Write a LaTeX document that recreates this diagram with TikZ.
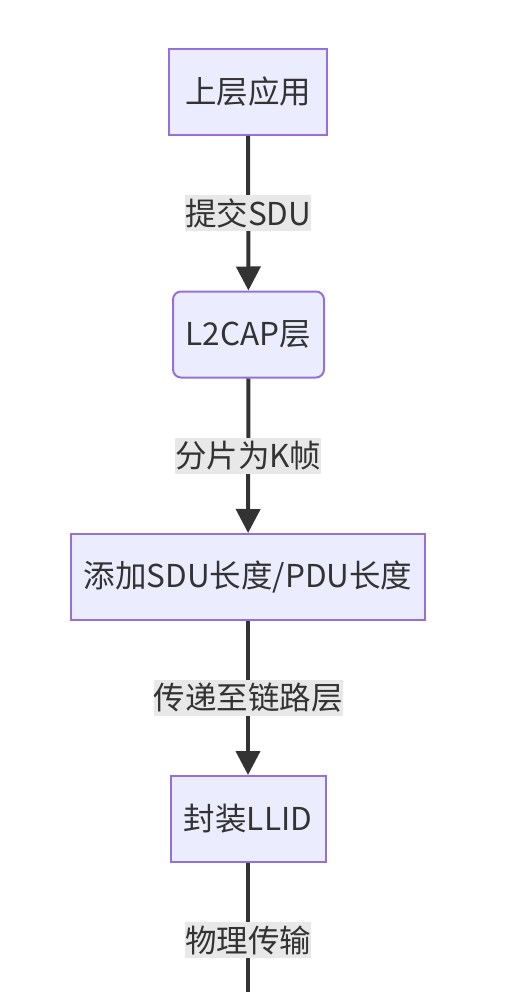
\documentclass[tikz,border=0pt]{standalone}
\usepackage{fontspec}
\setmainfont{Noto Sans CJK SC}
\usetikzlibrary{arrows.meta}
\definecolor{nodefill}{HTML}{ECECFF}
\definecolor{nodeline}{HTML}{9370DB}
\definecolor{edgeline}{HTML}{333333}
\definecolor{labelbg}{HTML}{E8E8E8}
\definecolor{txt}{HTML}{333333}
\begin{document}
\begin{tikzpicture}[x=1pt,y=-1pt,
  box/.style={draw=nodeline, fill=nodefill, line width=2pt, minimum height=86pt, inner sep=0pt, text=txt, font=\fontsize{31.5}{36}\selectfont},
  rbox/.style={box, rounded corners=8pt},
  elabel/.style={fill=labelbg, inner xsep=0pt, inner ysep=0pt, minimum height=36pt, text=txt, font=\fontsize{31.5}{36}\selectfont},
  edge/.style={draw=edgeline, line width=4pt, -{Triangle[length=24pt,width=24pt]}},
  edgeplain/.style={draw=edgeline, line width=4pt}]
\useasboundingbox (0,0) rectangle (527,992);
\node[box, minimum width=158pt] (b1) at (248,92) {上层应用};
\node[rbox, minimum width=151pt] (b2) at (248.5,334.5) {L2CAP层};
\node[box, minimum width=354pt] (b3) at (248,577) {添加SDU长度/PDU长度};
\node[box, minimum width=155pt] (b4) at (248,819) {封装LLID};
\coordinate (end) at (248,992);
\draw[edge] (b1) -- node[elabel] (l1) {提交SDU} (b2);
\draw[edge] (b2) -- node[elabel] (l2) {分片为K帧} (b3);
\draw[edge] (b3) -- node[elabel] (l3) {传递至链路层} (b4);
\draw[edgeplain] (b4) -- node[elabel, pos=0.6] (l4) {物理传输} (end);
\end{tikzpicture}
\end{document}
